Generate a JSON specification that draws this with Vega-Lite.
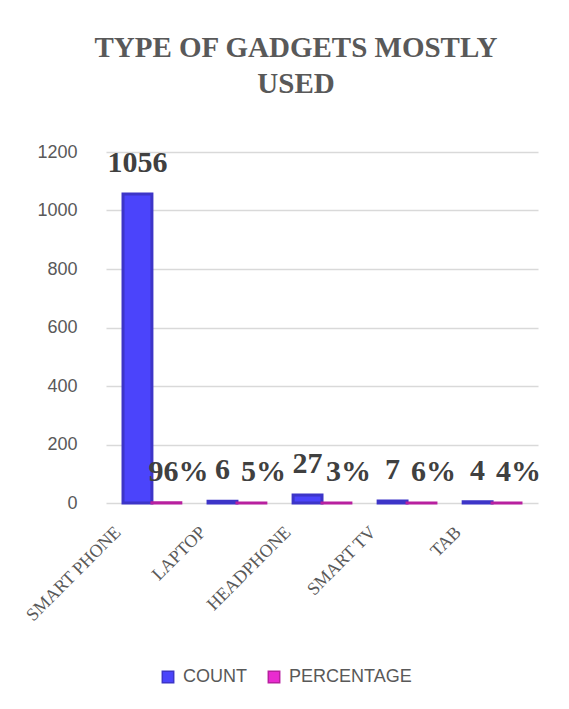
{
  "$schema": "https://vega.github.io/schema/vega-lite/v6.json",
  "width": 432,
  "height": 351,
  "autosize": {"type": "none"},
  "padding": {"left": 106, "top": 152, "right": 31, "bottom": 206},
  "background": "white",
  "config": {"view": {"stroke": null}},
  "title": {
    "text": ["TYPE OF GADGETS MOSTLY", "USED"],
    "font": "Liberation Serif",
    "fontSize": 29,
    "fontWeight": "bold",
    "color": "#595959",
    "lineHeight": 36,
    "anchor": "middle",
    "dx": -26,
    "offset": 44
  },
  "data": {
    "values": [
      {"gadget": "SMART PHONE", "series": "COUNT", "value": 1056, "label": "1056"},
      {"gadget": "SMART PHONE", "series": "PERCENTAGE", "value": 0.96, "label": "96%"},
      {"gadget": "LAPTOP", "series": "COUNT", "value": 6, "label": "6"},
      {"gadget": "LAPTOP", "series": "PERCENTAGE", "value": 0.05, "label": "5%"},
      {"gadget": "HEADPHONE", "series": "COUNT", "value": 27, "label": "27"},
      {"gadget": "HEADPHONE", "series": "PERCENTAGE", "value": 0.03, "label": "3%"},
      {"gadget": "SMART TV", "series": "COUNT", "value": 7, "label": "7"},
      {"gadget": "SMART TV", "series": "PERCENTAGE", "value": 0.06, "label": "6%"},
      {"gadget": "TAB", "series": "COUNT", "value": 4, "label": "4"},
      {"gadget": "TAB", "series": "PERCENTAGE", "value": 0.04, "label": "4%"}
    ]
  },
  "encoding": {
    "x": {
      "field": "gadget",
      "type": "nominal",
      "sort": null,
      "scale": {"paddingInner": 0.32, "paddingOuter": 0.2},
      "axis": {
        "title": null,
        "labelAngle": -45,
        "labelFont": "Liberation Serif",
        "labelFontSize": 18,
        "labelColor": "#595959",
        "domain": false,
        "ticks": false,
        "labelPadding": 20,
        "labelOffset": -40
      }
    },
    "xOffset": {"field": "series", "type": "nominal"},
    "y": {
      "field": "value",
      "type": "quantitative",
      "scale": {"domain": [0, 1200], "nice": false},
      "axis": {
        "title": null,
        "values": [0, 200, 400, 600, 800, 1000, 1200],
        "format": "d",
        "labelFont": "Liberation Sans",
        "labelFontSize": 18,
        "labelColor": "#595959",
        "domain": false,
        "ticks": false,
        "labelPadding": 29,
        "gridColor": "#d9d9d9",
        "gridWidth": 1.5
      }
    }
  },
  "layer": [
    {
      "mark": {"type": "bar", "strokeWidth": 3},
      "encoding": {
        "color": {
          "field": "series",
          "type": "nominal",
          "scale": {"domain": ["COUNT", "PERCENTAGE"], "range": ["#4B44FB", "#E92BD0"]},
          "legend": {
            "title": null,
            "orient": "none",
            "direction": "horizontal",
            "legendX": 53,
            "legendY": 516,
            "symbolType": "square",
            "symbolSize": 130,
            "symbolOpacity": 1,
            "labelFont": "Liberation Sans",
            "labelFontSize": 18,
            "labelColor": "#595959",
            "columnPadding": 18,
            "labelOffset": 6
          }
        },
        "stroke": {
          "field": "series",
          "type": "nominal",
          "scale": {"domain": ["COUNT", "PERCENTAGE"], "range": ["#3D35C8", "#B8209F"]},
          "legend": null
        }
      }
    },
    {
      "transform": [{"filter": "datum.series === 'COUNT'"}],
      "mark": {
        "type": "text",
        "font": "Liberation Serif",
        "fontSize": 30,
        "fontWeight": "bold",
        "color": "#404040",
        "baseline": "middle",
        "dy": -31
      },
      "encoding": {"text": {"field": "label", "type": "nominal"}}
    },
    {
      "transform": [{"filter": "datum.series === 'PERCENTAGE'"}],
      "mark": {
        "type": "text",
        "font": "Liberation Serif",
        "fontSize": 30,
        "fontWeight": "bold",
        "color": "#404040",
        "baseline": "middle",
        "dx": 12,
        "dy": -31
      },
      "encoding": {"text": {"field": "label", "type": "nominal"}}
    }
  ]
}
